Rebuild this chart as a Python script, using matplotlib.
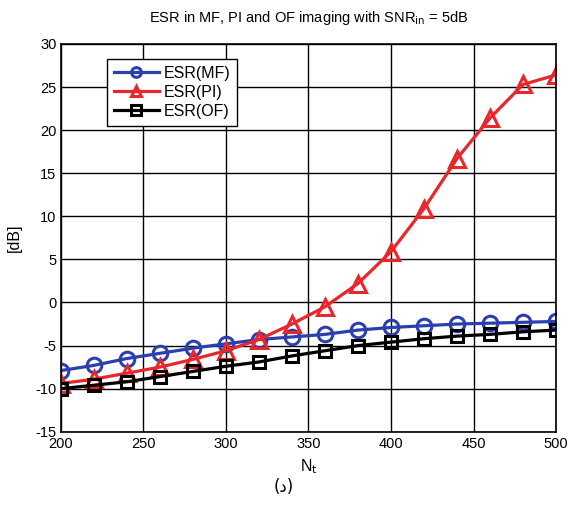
#--------------------- LIBRARIES ---------------------#

import matplotlib
matplotlib.use('Agg')
import matplotlib.pyplot as plt
import numpy as np

#-----------------------------------------------------#

plt.rcParams['font.family'] = ['Liberation Sans', 'DejaVu Sans']
plt.rcParams['axes.unicode_minus'] = False

N_t = [200, 220, 240, 260, 280, 300, 320, 340, 360, 380, 400, 420, 440, 460, 480, 500]
esr_mf = [-7.9, -7.3, -6.5, -5.9, -5.3, -4.8, -4.3, -4.0, -3.7, -3.2, -2.9, -2.7, -2.5, -2.4, -2.3, -2.2]
esr_pi = [-9.4, -8.9, -8.2, -7.5, -6.6, -5.6, -4.3, -2.5, -0.5, 2.2, 5.9, 10.9, 16.7, 21.4, 25.3, 26.4]
esr_of = [-10.0, -9.6, -9.2, -8.6, -8.0, -7.4, -6.9, -6.2, -5.6, -5.0, -4.6, -4.2, -3.9, -3.7, -3.4, -3.2]

x_ticks = [200, 250, 300, 350, 400, 450, 500]
y_ticks = [-15, -10, -5, 0, 5, 10, 15, 20, 25, 30]

#-----------------------------------------------------#

fig = plt.figure(figsize=(5.68, 5.05), dpi=100)
ax = fig.add_axes([0.107, 0.145, 0.872, 0.768])

ax.plot(N_t, esr_mf, color='#2b3fae', lw=2.3, marker='o', ms=10.5, mfc='none', mew=2.2, label='ESR(MF)')
ax.plot(N_t, esr_pi, color='#e8262b', lw=2.3, marker='^', ms=12, mfc='none', mew=2.2, label='ESR(PI)')
ax.plot(N_t, esr_of, color='black', lw=2.3, marker='s', ms=8, mfc='none', mew=2.2, label='ESR(OF)')

ax.set_xlim(200, 500)
ax.set_ylim(-15, 30)
ax.set_xticks(x_ticks)
ax.set_yticks(y_ticks)
ax.grid(True, color='black', lw=1.0)
ax.tick_params(labelsize=10.5, length=0)
ax.tick_params(axis='y', pad=3)
ax.tick_params(axis='x', pad=4)
for sp in ax.spines.values():
    sp.set_linewidth(1.2)

ax.set_title('ESR in MF, PI and OF imaging with SNR$_{\\mathrm{in}}$ = 5dB', fontsize=10.5, pad=16)
ax.set_xlabel('N$_\\mathrm{t}$', fontsize=11.5, labelpad=4)
ax.set_ylabel('[dB]', fontsize=11.5, labelpad=10)

leg = ax.legend(loc='upper left', bbox_to_anchor=(0.093, 0.962), fontsize=11.5, fancybox=False,
                edgecolor='black', framealpha=1, handlelength=2.8, borderpad=0.45,
                labelspacing=0.25, handletextpad=0.3, borderaxespad=0)
leg.get_frame().set_linewidth(1.0)
for h in leg.legend_handles:
    h.set_markersize(7)

fig.text(0.5, 0.025, '(د)', ha='center', fontsize=12, family=['DejaVu Sans'])

plt.savefig('out.png', dpi=100)
